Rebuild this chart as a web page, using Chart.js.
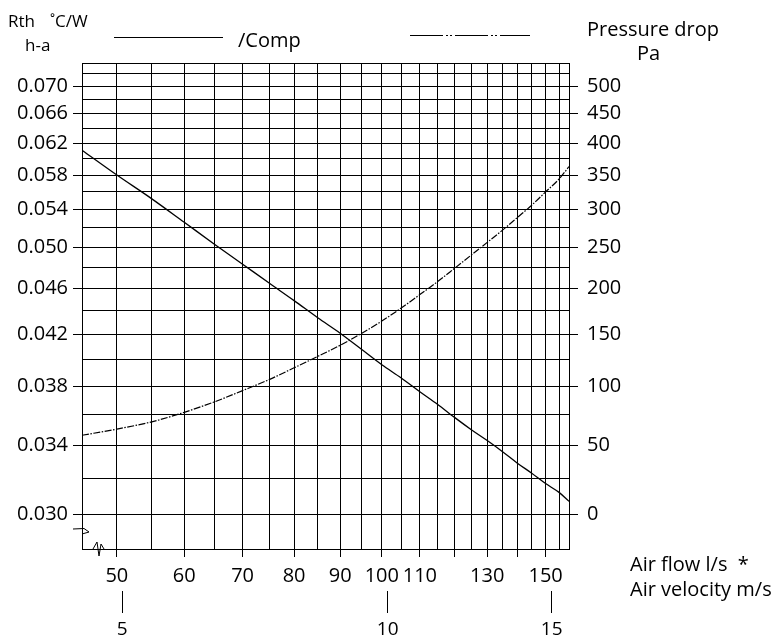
<!DOCTYPE html>
<html>
<head>
<meta charset="utf-8">
<script src="https://cdn.jsdelivr.net/npm/chart.js"></script>
<style>
  html, body { margin: 0; padding: 0; background: #fff; overflow: hidden; }
  #wrap { width: 779px; height: 641px; position: relative; }
</style>
</head>
<body>
<div id="wrap"><canvas id="rthChart"></canvas></div>
<script>
const airflow = [45.4, 50, 55, 60, 65, 70, 75, 80, 85, 90, 95, 100, 105, 110, 115, 120, 125, 130, 135, 140, 145, 150, 155, 158.8];
// Rth h-a per component (°C/W) - solid line
const rthComp = [0.0611, 0.0580, 0.0552, 0.0526, 0.0503, 0.0483, 0.0465, 0.0449, 0.0434, 0.0421, 0.0408, 0.0396, 0.0386, 0.0376, 0.0367, 0.0358, 0.0350, 0.0343, 0.0336, 0.0329, 0.0323, 0.0317, 0.0312, 0.0307];
// Pressure drop (Pa) - dash-dot line
const pressureDrop = [58, 63, 69, 77, 86, 96, 106, 117, 128, 139, 151, 164, 178, 193, 208, 224, 240, 256, 272, 289, 306, 325, 344, 363];

// Axes
const airflowGrid = [50, 55, 60, 65, 70, 75, 80, 85, 90, 95, 100, 105, 110, 115, 120, 125, 130, 135, 140, 145, 150, 155];
const airflowLabels = [50, 60, 70, 80, 90, 100, 110, 130, 150];
const airflowMarks = [50, 60, 70, 80, 90, 100, 110, 120, 130, 140, 150];
const rthGrid = [0.030, 0.032, 0.034, 0.036, 0.038, 0.040, 0.042, 0.044, 0.046, 0.048, 0.050, 0.052, 0.054, 0.056, 0.058, 0.060, 0.062, 0.064, 0.066, 0.068, 0.070, 0.072];
const rthLabels = [0.030, 0.034, 0.038, 0.042, 0.046, 0.050, 0.054, 0.058, 0.062, 0.066, 0.070];
const pressureLabels = [0, 50, 100, 150, 200, 250, 300, 350, 400, 450, 500];
const velocityLabels = [5, 10, 15];

const airflowMin = 45.4, airflowMax = 158.8;
const rthMin = 0.02823, rthMax = 0.07357;
const rthAtZeroPa = 0.030, paPerRth = 12500;   // right scale: 0 Pa at 0.030, 500 Pa at 0.070
const litresPerVelocity = 10.15;               // l/s per m/s between the two bottom scales

// the drawing uses log(value - shift) on both axes
const airflowShift = -10;
const rthShift = 0.008;

class ShiftLogScale extends Chart.LinearScale {
    _f(v) { return Math.log10(v - this.options.shift); }
    getPixelForValue(v) {
        const a = this._f(this.min), b = this._f(this.max);
        return this.getPixelForDecimal((this._f(v) - a) / (b - a));
    }
    getValueForPixel(p) {
        const a = this._f(this.min), b = this._f(this.max);
        return Math.pow(10, a + this.getDecimalForPixel(p) * (b - a)) + this.options.shift;
    }
}
ShiftLogScale.id = 'shiftlog';
ShiftLogScale.defaults = Chart.LinearScale.defaults;
Chart.register(ShiftLogScale);

Chart.defaults.font.family = '"Open Sans"';
Chart.defaults.color = '#000';

const black = '#000';
const none = 'rgba(0,0,0,0)';

const setTicks = (values) => (scale) => { scale.ticks = values.map(v => ({ value: v })); };

// Texts, legend keys and axis breaks around the grid
const annotations = {
    id: 'annotations',
    afterDraw(chart) {
        const c = chart.ctx;
        c.save();
        c.fillStyle = black;
        c.strokeStyle = black;
        c.lineWidth = 1;
        c.textBaseline = 'alphabetic';

        c.font = '17px "Open Sans"';
        c.fillText('Rth', 8, 27);
        c.fillText('˚C/W', 50, 27);
        c.fillText('h-a', 25, 51);

        c.font = '20px "Open Sans"';
        c.fillText('/Comp', 238, 47);
        c.fillText('Pressure drop', 587, 36);
        c.fillText('Pa', 637, 60);
        c.fillText('Air flow l/s  *', 630, 571);
        c.fillText('Air velocity m/s', 630, 596);

        // legend keys
        c.beginPath();
        c.moveTo(114, 37.5); c.lineTo(223, 37.5);
        c.stroke();
        c.setLineDash([33, 3, 2, 2, 2, 3]);
        c.beginPath();
        c.moveTo(410, 35.5); c.lineTo(530, 35.5);
        c.stroke();
        c.setLineDash([]);

        // axis break marks
        c.beginPath();
        c.moveTo(73, 529); c.lineTo(84, 528.5); c.lineTo(89, 532); c.lineTo(82, 534);
        c.stroke();
        c.beginPath();
        c.moveTo(93, 549); c.lineTo(97, 542); c.lineTo(99, 556); c.lineTo(101, 544); c.lineTo(104, 549);
        c.stroke();
        c.restore();
    }
};

new Chart(document.getElementById('rthChart'), {
    type: 'line',
    data: {
        datasets: [
            {
                label: 'Rth h-a /Comp',
                data: airflow.map((q, i) => ({ x: q, y: rthComp[i] })),
                borderColor: black,
                borderWidth: 1.3,
                pointRadius: 0,
                cubicInterpolationMode: 'monotone',
                xAxisID: 'x',
                yAxisID: 'y'
            },
            {
                label: 'Pressure drop',
                data: airflow.map((q, i) => ({ x: q, y: pressureDrop[i] })),
                borderColor: black,
                borderWidth: 1.2,
                borderDash: [7, 1.5, 1.5, 1.5],
                pointRadius: 0,
                cubicInterpolationMode: 'monotone',
                xAxisID: 'x',
                yAxisID: 'yPa'
            }
        ]
    },
    options: {
        responsive: true,
        maintainAspectRatio: false,
        animation: false,
        layout: { padding: { top: 63, left: 0, right: 0, bottom: 0 } },
        plugins: {
            legend: { display: false },
            tooltip: { enabled: false }
        },
        scales: {
            x: {
                type: 'shiftlog',
                shift: airflowShift,
                position: 'bottom',
                weight: 0,
                min: airflowMin,
                max: airflowMax,
                afterBuildTicks: setTicks(airflowGrid),
                afterFit: (s) => { s.height = 42; },
                border: { display: true, color: black, width: 1 },
                grid: {
                    color: black,
                    lineWidth: 1,
                    tickLength: 8,
                    tickColor: (ctx) => ctx.tick && airflowMarks.includes(ctx.tick.value) ? black : none
                },
                ticks: {
                    autoSkip: false,
                    maxRotation: 0,
                    padding: 7,
                    font: { size: 20 },
                    callback: (v) => airflowLabels.includes(v) ? String(v) : ''
                }
            },
            xv: {
                type: 'shiftlog',
                shift: airflowShift / litresPerVelocity,
                position: 'bottom',
                weight: 1,
                min: airflowMin / litresPerVelocity,
                max: airflowMax / litresPerVelocity,
                afterBuildTicks: setTicks(velocityLabels),
                afterFit: (s) => { s.height = 50; },
                border: { display: false },
                grid: { drawOnChartArea: false, color: black, tickLength: 22 },
                ticks: {
                    autoSkip: false,
                    maxRotation: 0,
                    padding: 5,
                    font: { size: 19 },
                    callback: (v) => String(v)
                }
            },
            y: {
                type: 'shiftlog',
                shift: rthShift,
                position: 'left',
                min: rthMin,
                max: rthMax,
                afterBuildTicks: setTicks(rthGrid.concat([rthMax])),
                afterFit: (s) => { s.width = 82; },
                border: { display: true, color: black, width: 1 },
                grid: {
                    color: black,
                    lineWidth: 1,
                    tickLength: 9,
                    tickColor: (ctx) => ctx.tick && rthLabels.includes(ctx.tick.value) ? black : none
                },
                ticks: {
                    autoSkip: false,
                    padding: 5,
                    font: { size: 20 },
                    callback: (v) => rthLabels.includes(v) ? v.toFixed(3) : ''
                }
            },
            yPa: {
                type: 'shiftlog',
                shift: (rthShift - rthAtZeroPa) * paPerRth,
                position: 'right',
                min: (rthMin - rthAtZeroPa) * paPerRth,
                max: (rthMax - rthAtZeroPa) * paPerRth,
                afterBuildTicks: setTicks(pressureLabels),
                afterFit: (s) => { s.width = 210; },
                border: { display: true, color: black, width: 1 },
                grid: { drawOnChartArea: false, color: black, tickLength: 9 },
                ticks: {
                    autoSkip: false,
                    padding: 9,
                    font: { size: 20 },
                    callback: (v) => String(v)
                }
            }
        }
    },
    plugins: [annotations]
});
</script>
</body>
</html>
